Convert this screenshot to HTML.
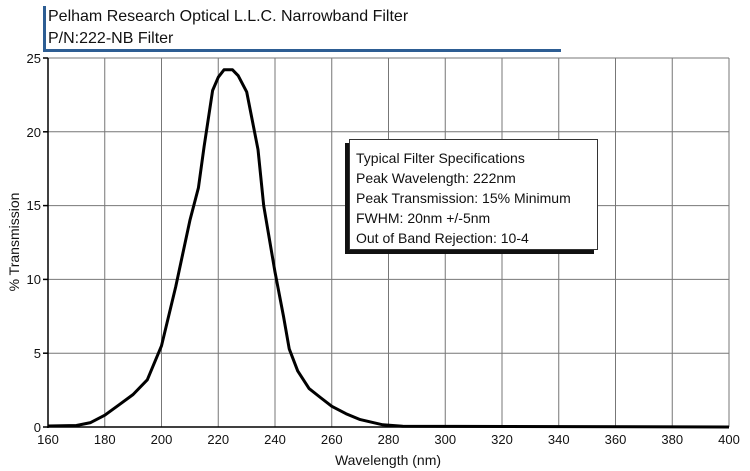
<!DOCTYPE html>
<html><head><meta charset="utf-8"><style>
body{margin:0;background:#fff;}
svg{display:block;font-family:"Liberation Sans",sans-serif;}
</style></head><body>
<svg width="750" height="471" viewBox="0 0 750 471">
<rect x="43" y="6" width="3" height="46" fill="#2d5d93"/>
<rect x="43" y="49" width="518" height="3" fill="#2d5d93"/>
<text x="48" y="21" font-size="16" fill="#111">Pelham Research Optical L.L.C. Narrowband Filter</text>
<text x="48" y="43" font-size="16" fill="#111">P/N:222-NB Filter</text>
<g stroke="#777" stroke-width="1">
<line x1="104.75" y1="58" x2="104.75" y2="427"/><line x1="161.5" y1="58" x2="161.5" y2="427"/><line x1="218.25" y1="58" x2="218.25" y2="427"/><line x1="275" y1="58" x2="275" y2="427"/><line x1="331.75" y1="58" x2="331.75" y2="427"/><line x1="388.5" y1="58" x2="388.5" y2="427"/><line x1="445.25" y1="58" x2="445.25" y2="427"/><line x1="502" y1="58" x2="502" y2="427"/><line x1="558.75" y1="58" x2="558.75" y2="427"/><line x1="615.5" y1="58" x2="615.5" y2="427"/><line x1="672.25" y1="58" x2="672.25" y2="427"/><line x1="729" y1="58" x2="729" y2="427"/>
<line x1="48" y1="58" x2="729" y2="58"/><line x1="48" y1="131.8" x2="729" y2="131.8"/><line x1="48" y1="205.6" x2="729" y2="205.6"/><line x1="48" y1="279.4" x2="729" y2="279.4"/><line x1="48" y1="353.2" x2="729" y2="353.2"/>
</g>
<g stroke="#000" stroke-width="1.5"><line x1="48" y1="58" x2="48" y2="428"/><line x1="47" y1="427" x2="729" y2="427"/>
<line x1="43" y1="58" x2="48" y2="58"/><line x1="43" y1="131.8" x2="48" y2="131.8"/><line x1="43" y1="205.6" x2="48" y2="205.6"/><line x1="43" y1="279.4" x2="48" y2="279.4"/><line x1="43" y1="353.2" x2="48" y2="353.2"/><line x1="43" y1="427" x2="48" y2="427"/></g>
<g font-size="13" text-anchor="end" fill="#111">
<text x="41" y="63">25</text><text x="41" y="137">20</text><text x="41" y="210">15</text><text x="41" y="284">10</text><text x="41" y="358">5</text><text x="41" y="432">0</text></g>
<g font-size="13" text-anchor="middle" fill="#111">
<text x="48" y="444">160</text><text x="104.75" y="444">180</text><text x="161.5" y="444">200</text><text x="218.25" y="444">220</text><text x="275" y="444">240</text><text x="331.75" y="444">260</text><text x="388.5" y="444">280</text><text x="445.25" y="444">300</text><text x="502" y="444">320</text><text x="558.75" y="444">340</text><text x="615.5" y="444">360</text><text x="672.25" y="444">380</text><text x="729" y="444">400</text></g>
<text x="388" y="465" font-size="14" text-anchor="middle" fill="#111">Wavelength (nm)</text>
<text transform="translate(19,242) rotate(-90)" font-size="14" text-anchor="middle" fill="#111">% Transmission</text>
<polyline fill="none" stroke="#000" stroke-width="3" stroke-linejoin="round" points="48,426 76.4,425.5 90.6,422.6 104.8,415.2 118.9,404.9 133.1,394.5 147.3,379.8 161.5,345.8 175.7,286.8 189.9,220.4 198.4,187.9 204.1,146.6 212.6,90.5 218.3,77.2 224,69.8 232.5,69.8 238.2,75.7 246.7,91.9 258,149.5 263.7,205.6 275,272 283.5,316.3 289.2,348.8 297.7,370.9 309.1,388.6 320.4,397.5 331.8,406.3 346,413.7 360.2,419.6 382.8,424.8 402.7,426.3 729,427"/>
<rect x="345" y="143" width="249" height="111" fill="#111"/>
<rect x="349.5" y="139.5" width="248" height="110" fill="#fff" stroke="#333" stroke-width="1"/>
<g font-size="14" fill="#111">
<text x="356" y="163">Typical Filter Specifications</text>
<text x="356" y="183">Peak Wavelength: 222nm</text>
<text x="356" y="203">Peak Transmission: 15% Minimum</text>
<text x="356" y="223">FWHM: 20nm +/-5nm</text>
<text x="356" y="243">Out of Band Rejection: 10-4</text></g>
</svg>
</body></html>
